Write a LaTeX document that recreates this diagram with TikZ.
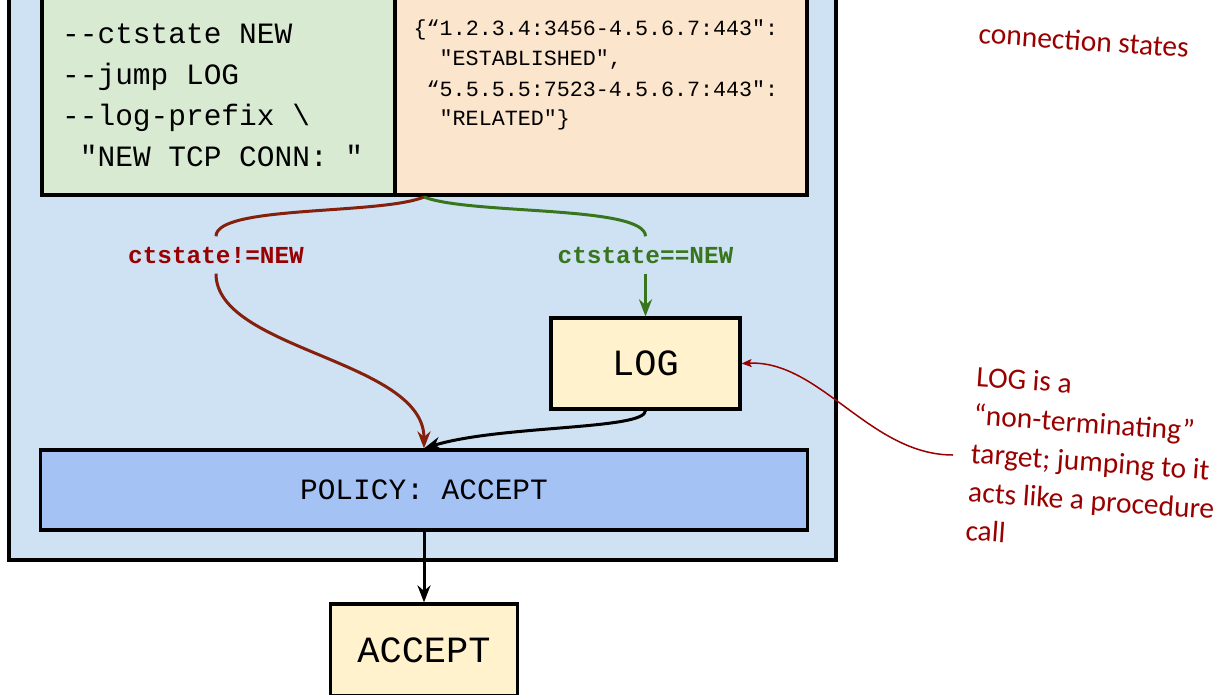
\documentclass[tikz,border=0pt]{standalone}
\usepackage{fontspec}
\setmainfont{Carlito}
\setmonofont{Liberation Mono}
\newfontfamily\handfont{Carlito}
\usetikzlibrary{arrows.meta,calc}

\definecolor{chainbg}{HTML}{CFE2F3}
\definecolor{rulebg}{HTML}{D9EAD3}
\definecolor{statebg}{HTML}{FCE5CD}
\definecolor{targetbg}{HTML}{FFF2CC}
\definecolor{policybg}{HTML}{A4C2F4}
\definecolor{redflow}{HTML}{85200C}
\definecolor{redtext}{HTML}{990000}
\definecolor{greenflow}{HTML}{38761D}
\definecolor{notered}{HTML}{990000}

\begin{document}
\begin{tikzpicture}[x=1pt,y=-1pt,
  frame/.style={draw=black,line width=3.2pt},
  box/.style={draw=black,line width=3.2pt,inner sep=0pt,
    font=\fontsize{37}{40}\selectfont\ttfamily},
  code/.style={inner sep=0pt,anchor=base west,
    font=\fontsize{29.5}{35}\selectfont\ttfamily},
  state/.style={inner sep=0pt,anchor=base west,
    font=\fontsize{21.7}{26}\selectfont\ttfamily},
  lbl/.style={inner sep=0pt,minimum height=37pt,
    font=\fontsize{24.4}{28}\selectfont\ttfamily\bfseries},
  tip/.style={-{Stealth[length=17pt,width=13pt,inset=5.5pt]}},
  flow/.style={draw=black,line width=3pt},
  redpath/.style={draw=redflow,line width=3pt},
  greenpath/.style={draw=greenflow,line width=3pt},
  note/.style={text=notered,inner sep=0pt,align=left,
    font=\fontsize{29.5}{38.5}\selectfont\handfont},
  noteline/.style={draw=notered,line width=1.5pt,
    -{Stealth[length=10pt,width=8pt,inset=2pt]}},
]
\useasboundingbox (0,0) rectangle (1227,694);

\begin{scope}
  \clip (0,0) rectangle (1227,694);
  % chain container and the two upper panels (their tops run off the page)
  \draw[frame,fill=chainbg] (9,-30) rectangle (836,560);
  \draw[frame,fill=rulebg] (42,-30) rectangle (395,195);
  \draw[frame,fill=statebg] (395,-30) rectangle (807,195);
  % final verdict box, cut by the lower edge
  \node[box,fill=targetbg,minimum width=187pt,minimum height=92pt]
    (accept) at (424,650) {ACCEPT};
\end{scope}

% rule text
\node[code] (r1) at (62,43.5) {-{}-ctstate NEW};
\node[code] (r2) at (62,84.5) {-{}-jump LOG};
\node[code] (r3) at (62,125) {-{}-log-prefix \textbackslash};
\node[code] (r4) at (79.7,166) {"NEW TCP CONN:\ "};

% connection state table
\node[state] (s1) at (413.5,35) {\{“1.2.3.4:3456-4.5.6.7:443":};
\node[state] (s2) at (439.5,65.5) {"ESTABLISHED",};
\node[state] (s3) at (426.5,96.5) {“5.5.5.5:7523-4.5.6.7:443":};
\node[state] (s4) at (439.5,125.5) {"RELATED"\}};

% targets
\node[box,fill=targetbg,minimum width=189pt,minimum height=91pt]
  (log) at (645.5,363.5) {LOG};
\node[box,fill=policybg,minimum width=767pt,minimum height=80pt,
  font=\fontsize{29.5}{35}\selectfont\ttfamily]
  (policy) at (424,490) {POLICY: ACCEPT};

% branch labels
\node[lbl,text=redtext] (neq) at (216,255) {ctstate!=NEW};
\node[lbl,text=greenflow] (eq) at (645.5,255) {ctstate==NEW};

\coordinate (split) at (424,197);

% non-NEW packets fall through to the policy
\draw[redpath] (split) .. controls (380,215) and (216,205) .. (neq.north);
\draw[redpath,tip] (neq.south) .. controls (216,350) and (424,360) .. (policy.north);

% NEW packets jump to LOG, then return
\draw[greenpath] (split) .. controls (470,215) and (645.5,205) .. (eq.north);
\draw[greenpath,tip] (eq.south) -- (log.north);
\draw[flow,tip] (log.south) .. controls (645.5,430) and (500,425) .. (policy.north);

% chain policy leads to the verdict
\draw[flow,tip] (policy.south) -- (accept.north);

% side notes
\node[note,anchor=base west,rotate=-4] (states) at (978,43) {connection states};
\node[note,anchor=north west,rotate=-4] (note) at (977,366)
  {LOG is a\\“non-terminating”\\target; jumping to it\\acts like a procedure\\call};
\coordinate (tail) at (953,455);
\draw[noteline] (tail) .. controls (870,455) and (820,360) .. (log.east);

\end{tikzpicture}
\end{document}
